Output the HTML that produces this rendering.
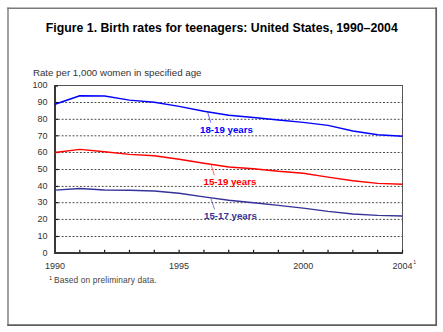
<!DOCTYPE html>
<html><head><meta charset="utf-8"><style>
html,body{margin:0;padding:0;background:#fff;width:443px;height:332px;overflow:hidden}
svg{display:block}
text{font-family:"Liberation Sans",sans-serif}
.g{stroke:#4a4a4a;stroke-width:1;stroke-dasharray:1.9 1.752}
.t{stroke:#111;stroke-width:1.2}
.tl{font-size:9px;fill:#333}
.lb{font-size:9.7px;font-weight:bold}
</style></head><body>
<svg width="443" height="332" viewBox="0 0 443 332">
<rect x="0" y="0" width="443" height="332" fill="#fff"/>
<line x1="7.3" y1="8.25" x2="436.5" y2="8.25" stroke="#7a7a7a" stroke-width="1.4"/>
<line x1="8" y1="7.5" x2="8" y2="325.5" stroke="#7a7a7a" stroke-width="1.4"/>
<line x1="436.2" y1="7.5" x2="436.2" y2="326" stroke="#5e5e5e" stroke-width="1.7"/>
<line x1="7.3" y1="325.2" x2="437" y2="325.2" stroke="#5e5e5e" stroke-width="1.7"/>
<text x="45.8" y="32" font-size="12.3" font-weight="bold" fill="#000">Figure 1. Birth rates for teenagers: United States, 1990–2004</text>
<text x="32.9" y="75.6" font-size="9.72" fill="#333">Rate per 1,000 women in specified age</text>
<line x1="58" y1="102.5" x2="402" y2="102.5" class="g"/>
<line x1="58" y1="119.3" x2="402" y2="119.3" class="g"/>
<line x1="58" y1="135.8" x2="402" y2="135.8" class="g"/>
<line x1="58" y1="152.5" x2="402" y2="152.5" class="g"/>
<line x1="58" y1="169.5" x2="402" y2="169.5" class="g"/>
<line x1="58" y1="186.4" x2="402" y2="186.4" class="g"/>
<line x1="58" y1="202.7" x2="402" y2="202.7" class="g"/>
<line x1="58" y1="219.4" x2="402" y2="219.4" class="g"/>
<line x1="58" y1="236.5" x2="402" y2="236.5" class="g"/>

<line x1="55" y1="85.5" x2="402.5" y2="85.5" stroke="#555" stroke-width="1"/>
<line x1="402.5" y1="85" x2="402.5" y2="253" stroke="#555" stroke-width="1"/>
<line x1="79.82" y1="249.8" x2="79.82" y2="253" class="t"/>
<line x1="104.64" y1="249.8" x2="104.64" y2="253" class="t"/>
<line x1="129.46" y1="249.8" x2="129.46" y2="253" class="t"/>
<line x1="154.29" y1="249.8" x2="154.29" y2="253" class="t"/>
<line x1="179.11" y1="249.8" x2="179.11" y2="253" class="t"/>
<line x1="203.93" y1="249.8" x2="203.93" y2="253" class="t"/>
<line x1="228.75" y1="249.8" x2="228.75" y2="253" class="t"/>
<line x1="253.57" y1="249.8" x2="253.57" y2="253" class="t"/>
<line x1="278.39" y1="249.8" x2="278.39" y2="253" class="t"/>
<line x1="303.21" y1="249.8" x2="303.21" y2="253" class="t"/>
<line x1="328.04" y1="249.8" x2="328.04" y2="253" class="t"/>
<line x1="352.86" y1="249.8" x2="352.86" y2="253" class="t"/>
<line x1="377.68" y1="249.8" x2="377.68" y2="253" class="t"/>
<line x1="402.50" y1="249.8" x2="402.50" y2="253" class="t"/>
<line x1="55" y1="102.5" x2="58" y2="102.5" class="t"/>
<line x1="55" y1="119.3" x2="58" y2="119.3" class="t"/>
<line x1="55" y1="135.8" x2="58" y2="135.8" class="t"/>
<line x1="55" y1="152.5" x2="58" y2="152.5" class="t"/>
<line x1="55" y1="169.5" x2="58" y2="169.5" class="t"/>
<line x1="55" y1="186.4" x2="58" y2="186.4" class="t"/>
<line x1="55" y1="202.7" x2="58" y2="202.7" class="t"/>
<line x1="55" y1="219.4" x2="58" y2="219.4" class="t"/>
<line x1="55" y1="236.5" x2="58" y2="236.5" class="t"/>
<line x1="55" y1="86" x2="58" y2="86" class="t"/>

<line x1="55" y1="85" x2="55" y2="254" stroke="#383838" stroke-width="2"/>
<line x1="54" y1="253" x2="403" y2="253" stroke="#383838" stroke-width="2"/>
<text x="47.5" y="255.70" text-anchor="end" class="tl">0</text>
<text x="47.5" y="239.20" text-anchor="end" class="tl">10</text>
<text x="47.5" y="222.10" text-anchor="end" class="tl">20</text>
<text x="47.5" y="205.40" text-anchor="end" class="tl">30</text>
<text x="47.5" y="189.10" text-anchor="end" class="tl">40</text>
<text x="47.5" y="172.20" text-anchor="end" class="tl">50</text>
<text x="47.5" y="155.20" text-anchor="end" class="tl">60</text>
<text x="47.5" y="138.50" text-anchor="end" class="tl">70</text>
<text x="47.5" y="122.00" text-anchor="end" class="tl">80</text>
<text x="47.5" y="105.20" text-anchor="end" class="tl">90</text>
<text x="47.5" y="88.20" text-anchor="end" class="tl">100</text>
<text x="45.00" y="268.7" font-size="9.5" textLength="20" lengthAdjust="spacingAndGlyphs" fill="#333">1990</text>
<text x="169.11" y="268.7" font-size="9.5" textLength="20" lengthAdjust="spacingAndGlyphs" fill="#333">1995</text>
<text x="293.21" y="268.7" font-size="9.5" textLength="20" lengthAdjust="spacingAndGlyphs" fill="#333">2000</text>
<text x="392.50" y="268.7" font-size="9.5" textLength="20" lengthAdjust="spacingAndGlyphs" fill="#333">2004</text>

<text x="413.2" y="263.8" font-size="5" fill="#333">1</text>
<polyline points="55.00,104.20 79.82,95.80 104.64,96.07 129.46,100.10 154.29,102.20 179.11,106.40 203.93,111.30 228.75,115.20 253.57,117.50 278.39,120.00 303.21,122.40 328.04,125.40 352.86,131.00 377.68,134.80 402.50,136.20" fill="none" stroke="#0000ff" stroke-width="1.45" stroke-linejoin="round"/>
<polyline points="55.00,152.50 79.82,149.40 104.64,151.70 129.46,154.40 154.29,155.75 179.11,159.30 203.93,163.30 228.75,167.00 253.57,168.80 278.39,171.30 303.21,173.20 328.04,177.10 352.86,180.70 377.68,183.40 402.50,184.30" fill="none" stroke="#ff0000" stroke-width="1.45" stroke-linejoin="round"/>
<polyline points="55.00,190.15 79.82,188.50 104.64,190.00 129.46,190.20 154.29,191.00 179.11,193.20 203.93,196.90 228.75,200.20 253.57,202.70 278.39,205.40 303.21,208.10 328.04,211.40 352.86,214.00 377.68,215.40 402.50,216.00" fill="none" stroke="#333399" stroke-width="1.45" stroke-linejoin="round"/>
<line x1="207.5" y1="111.8" x2="210.8" y2="122.6" stroke="#3030ff" stroke-width="0.75"/>
<line x1="211.2" y1="164.8" x2="214.3" y2="175.3" stroke="#ff4040" stroke-width="0.75"/>
<line x1="210.9" y1="198.5" x2="214.5" y2="209.3" stroke="#5555aa" stroke-width="0.75"/>
<text x="200.1" y="132.8" class="lb" fill="#0000ff">18-19 years</text>
<text x="203.5" y="184.8" class="lb" fill="#ff0000">15-19 years</text>
<text x="204.1" y="218.9" class="lb" fill="#333399">15-17 years</text>
<text x="49.2" y="279.6" font-size="5" fill="#111">1</text>
<text x="54.0" y="283.2" font-size="8.4" letter-spacing="0.12" fill="#444">Based on preliminary data.</text>
</svg>
</body></html>
